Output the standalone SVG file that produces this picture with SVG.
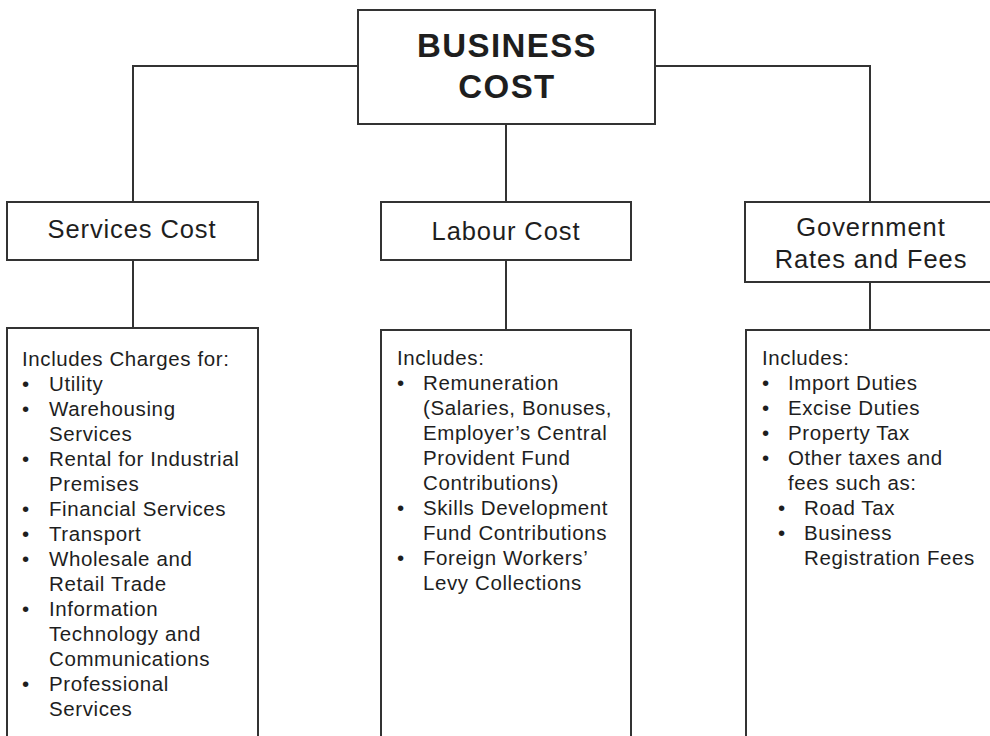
<svg xmlns="http://www.w3.org/2000/svg" width="990" height="736" viewBox="0 0 990 736">
  <style>
    .box { fill: #ffffff; stroke: #333333; stroke-width: 2; }
    .wire { fill: none; stroke: #333333; stroke-width: 2; }
    text { font-family: "Liberation Sans", Arial, sans-serif; fill: #1e1e1e; }
    .root { font-size: 33px; font-weight: bold; text-anchor: middle; letter-spacing: 1.4px; }
    .head { font-size: 25.5px; text-anchor: middle; letter-spacing: 0.9px; }
    .body { font-size: 20.5px; letter-spacing: 0.6px; }
  </style>

  <!-- connectors -->
  <g id="connectors">
    <polyline class="wire" points="358,66 133,66 133,202"/>
    <polyline class="wire" points="655,66 870,66 870,202"/>
    <line class="wire" x1="506" y1="124" x2="506" y2="202"/>
    <line class="wire" x1="133" y1="260" x2="133" y2="328"/>
    <line class="wire" x1="506" y1="260" x2="506" y2="330"/>
    <line class="wire" x1="870" y1="282" x2="870" y2="330"/>
  </g>

  <g id="business-cost">
    <rect class="box" x="358" y="10" width="297" height="114"/>
    <text class="root" x="507" y="57">BUSINESS</text>
    <text class="root" x="507" y="98">COST</text>
  </g>

  <g id="services-cost">
    <rect class="box" x="7" y="202" width="251" height="58"/>
    <text class="head" x="132" y="238">Services Cost</text>
  </g>

  <g id="labour-cost">
    <rect class="box" x="381" y="202" width="250" height="58"/>
    <text class="head" x="506" y="240">Labour Cost</text>
  </g>

  <g id="government-rates">
    <rect class="box" x="745" y="202" width="260" height="80"/>
    <text class="head" x="871" y="236">Government</text>
    <text class="head" x="871" y="268">Rates and Fees</text>
  </g>

  <g id="services-list">
    <rect class="box" x="7" y="328" width="251" height="420"/>
    <text class="body" x="22" y="366">Includes Charges for:</text>
    <g>
      <text class="body" x="22" y="391">•</text>
      <text class="body" x="22" y="416">•</text>
      <text class="body" x="22" y="466">•</text>
      <text class="body" x="22" y="516">•</text>
      <text class="body" x="22" y="541">•</text>
      <text class="body" x="22" y="566">•</text>
      <text class="body" x="22" y="616">•</text>
      <text class="body" x="22" y="691">•</text>
    </g>
    <text class="body" x="49" y="391">Utility</text>
    <text class="body" x="49" y="416">Warehousing</text>
    <text class="body" x="49" y="441">Services</text>
    <text class="body" x="49" y="466">Rental for Industrial</text>
    <text class="body" x="49" y="491">Premises</text>
    <text class="body" x="49" y="516">Financial Services</text>
    <text class="body" x="49" y="541">Transport</text>
    <text class="body" x="49" y="566">Wholesale and</text>
    <text class="body" x="49" y="591">Retail Trade</text>
    <text class="body" x="49" y="616">Information</text>
    <text class="body" x="49" y="641">Technology and</text>
    <text class="body" x="49" y="666">Communications</text>
    <text class="body" x="49" y="691">Professional</text>
    <text class="body" x="49" y="716">Services</text>
  </g>

  <g id="labour-list">
    <rect class="box" x="381" y="330" width="250" height="420"/>
    <text class="body" x="397" y="365">Includes:</text>
    <text class="body" x="397" y="390">•</text>
    <text class="body" x="397" y="515">•</text>
    <text class="body" x="397" y="565">•</text>
    <text class="body" x="423" y="390">Remuneration</text>
    <text class="body" x="423" y="415">(Salaries, Bonuses,</text>
    <text class="body" x="423" y="440">Employer’s Central</text>
    <text class="body" x="423" y="465">Provident Fund</text>
    <text class="body" x="423" y="490">Contributions)</text>
    <text class="body" x="423" y="515">Skills Development</text>
    <text class="body" x="423" y="540">Fund Contributions</text>
    <text class="body" x="423" y="565">Foreign Workers’</text>
    <text class="body" x="423" y="590">Levy Collections</text>
  </g>

  <g id="government-list">
    <rect class="box" x="746" y="330" width="260" height="420"/>
    <text class="body" x="762" y="365">Includes:</text>
    <text class="body" x="762" y="390">•</text>
    <text class="body" x="762" y="415">•</text>
    <text class="body" x="762" y="440">•</text>
    <text class="body" x="762" y="465">•</text>
    <text class="body" x="778" y="515">•</text>
    <text class="body" x="778" y="540">•</text>
    <text class="body" x="788" y="390">Import Duties</text>
    <text class="body" x="788" y="415">Excise Duties</text>
    <text class="body" x="788" y="440">Property Tax</text>
    <text class="body" x="788" y="465">Other taxes and</text>
    <text class="body" x="788" y="490">fees such as:</text>
    <text class="body" x="804" y="515">Road Tax</text>
    <text class="body" x="804" y="540">Business</text>
    <text class="body" x="804" y="565">Registration Fees</text>
  </g>
</svg>
